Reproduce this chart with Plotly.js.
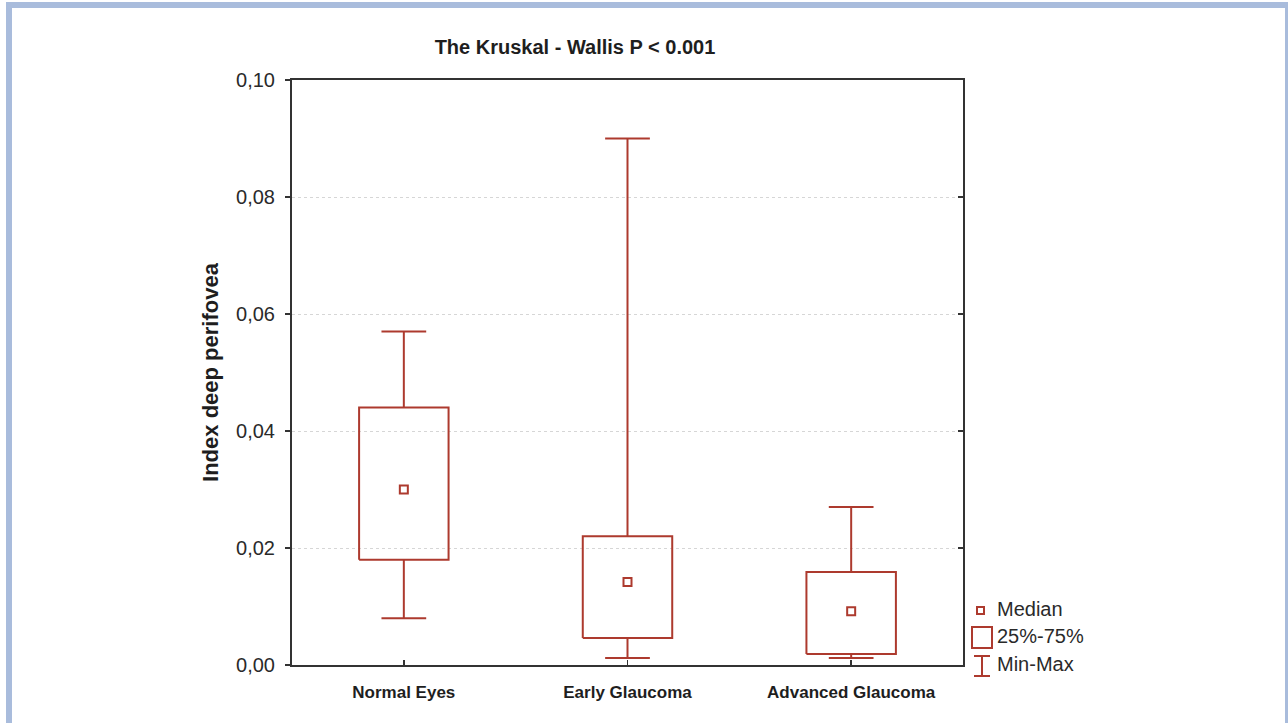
<!DOCTYPE html>
<html>
<head>
<meta charset="utf-8">
<script src="https://cdn.plot.ly/plotly-3.0.1.min.js"></script>
<style>
  html, body { margin: 0; padding: 0; background: #ffffff; }
  #frame { position: absolute; left: 6px; top: 2px; width: 1273px; height: 740px;
           border-left: 6px solid #a9bcdc; border-top: 6px solid #a9bcdc; border-right: 3px solid #a9bcdc; }
  #chart { position: absolute; left: 0; top: 0; width: 1288px; height: 723px; }
</style>
</head>
<body>
<div id="frame"></div>
<div id="chart"></div>
<script>
// ---- data ----
var categories = ['Normal Eyes', 'Early Glaucoma', 'Advanced Glaucoma'];
var minVals    = [0.008, 0.0012, 0.0012];
var q1Vals     = [0.018, 0.0046, 0.0019];
var medianVals = [0.030, 0.0142, 0.0092];
var q3Vals     = [0.044, 0.022, 0.0159];
var maxVals    = [0.057, 0.090, 0.027];
var yTickVals  = [0, 0.02, 0.04, 0.06, 0.08, 0.10];
var legendLabels = ['Median', '25%-75%', 'Min-Max'];

// ---- styling ----
var RED = '#ad3a2e';
var BOX_HALF = 0.2;
var CAP_HALF = 0.1;

var wx = [], wy = [], bx = [], by = [];
categories.forEach(function (c, i) {
  wx.push(i, i, null); wy.push(minVals[i], q1Vals[i], null);
  wx.push(i - CAP_HALF, i + CAP_HALF, null); wy.push(minVals[i], minVals[i], null);
  wx.push(i, i, null); wy.push(q3Vals[i], maxVals[i], null);
  wx.push(i - CAP_HALF, i + CAP_HALF, null); wy.push(maxVals[i], maxVals[i], null);
  bx.push(i - BOX_HALF, i + BOX_HALF, i + BOX_HALF, i - BOX_HALF, i - BOX_HALF, null);
  by.push(q1Vals[i], q1Vals[i], q3Vals[i], q3Vals[i], q1Vals[i], null);
});
var xIdx = categories.map(function (c, i) { return i; });

var traces = [
  { type: 'scatter', mode: 'lines', x: wx, y: wy, name: legendLabels[2],
    line: { color: RED, width: 2 }, hoverinfo: 'skip', showlegend: false },
  { type: 'scatter', mode: 'lines', x: bx, y: by, name: legendLabels[1],
    fill: 'toself', fillcolor: 'rgba(255,255,255,0)',
    line: { color: RED, width: 2 }, hoverinfo: 'skip', showlegend: false },
  { type: 'scatter', mode: 'markers', x: xIdx, y: medianVals, name: legendLabels[0], yaxis: 'y2',
    marker: { symbol: 'square-open', size: 8, color: RED, line: { width: 2, color: RED } },
    showlegend: false }
];

var W = 1288, H = 723, L = 292, R = 963, T = 80, B = 665;
function px(x) { return (x - L) / (R - L); }
function py(y) { return (B - y) / (B - T); }

var txtFont = { family: 'Liberation Sans, Arial, sans-serif', size: 20, color: '#2a2a2a' };

var shapes = [
  { type: 'rect', xref: 'paper', yref: 'paper', x0: px(977), x1: px(984), y0: py(614), y1: py(607),
    line: { color: RED, width: 2 } },
  { type: 'rect', xref: 'paper', yref: 'paper', x0: px(972), x1: px(992), y0: py(648), y1: py(627),
    line: { color: RED, width: 2 } },
  { type: 'line', xref: 'paper', yref: 'paper', x0: px(982), x1: px(982), y0: py(676), y1: py(656),
    line: { color: RED, width: 2 } },
  { type: 'line', xref: 'paper', yref: 'paper', x0: px(974), x1: px(990), y0: py(656), y1: py(656),
    line: { color: RED, width: 2 } },
  { type: 'line', xref: 'paper', yref: 'paper', x0: px(974), x1: px(990), y0: py(676), y1: py(676),
    line: { color: RED, width: 2 } }
];

var annotations = legendLabels.map(function (t, k) {
  var yy = [609, 636, 664][k];
  return { xref: 'paper', yref: 'paper', x: px(995), y: py(yy), xanchor: 'left', yanchor: 'middle',
           text: t, showarrow: false, font: txtFont };
});

var layout = {
  width: W, height: H,
  margin: { l: L, r: W - R, t: T, b: H - B, pad: 0 },
  paper_bgcolor: 'rgba(0,0,0,0)',
  plot_bgcolor: '#ffffff',
  separators: ', ',
  showlegend: false,
  title: { text: '<b>The Kruskal - Wallis P < 0.001</b>', xref: 'paper', x: px(575), xanchor: 'center',
           yref: 'container', y: 1 - 47 / H, yanchor: 'middle',
           font: { family: 'Liberation Sans, Arial, sans-serif', size: 20, color: '#1e1e1e' } },
  xaxis: {
    range: [-0.5, 2.5], tickvals: xIdx, ticktext: categories,
    ticks: 'inside', ticklen: 5, tickwidth: 1.5, tickcolor: '#333',
    showline: true, linecolor: '#333', linewidth: 2, mirror: true,
    showgrid: false, zeroline: false, ticklabelstandoff: 11,
    tickfont: { family: 'Liberation Sans, Arial, sans-serif', size: 17, color: '#1e1e1e', weight: 'bold' },
    fixedrange: true
  },
  yaxis: {
    range: [0, 0.1], tickvals: yTickVals, tickformat: '.2f',
    ticks: 'outside', ticklen: 5, tickwidth: 1.5, tickcolor: '#333',
    showline: true, linecolor: '#333', linewidth: 2, mirror: true,
    showgrid: true, gridcolor: '#d6d6d6', griddash: 'dot', gridwidth: 1,
    zeroline: false, ticklabelstandoff: 6,
    tickfont: { family: 'Liberation Sans, Arial, sans-serif', size: 20, color: '#2a2a2a' },
    title: { text: 'Index deep perifovea', standoff: 11,
             font: { family: 'Liberation Sans, Arial, sans-serif', size: 22, color: '#1e1e1e', weight: 'bold' } },
    automargin: false, fixedrange: true
  },
  yaxis2: {
    overlaying: 'y', side: 'right', range: [0, 0.1], tickvals: yTickVals,
    ticks: 'inside', ticklen: 5, tickwidth: 1.5, tickcolor: '#333',
    showticklabels: false, showgrid: false, showline: false, zeroline: false, fixedrange: true
  },
  shapes: shapes,
  annotations: annotations
};

Plotly.newPlot('chart', traces, layout, { displayModeBar: false, staticPlot: true });
</script>
</body>
</html>
